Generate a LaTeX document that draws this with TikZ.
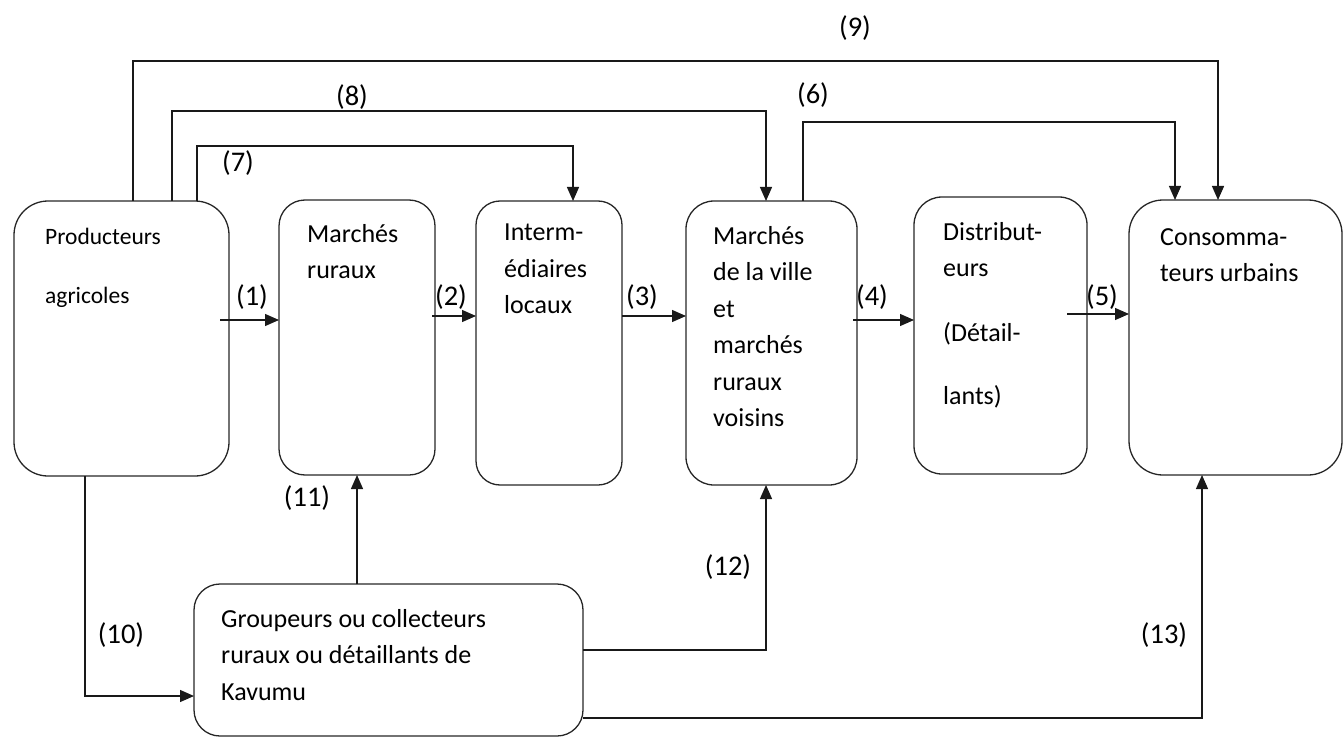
\documentclass[tikz,border=0pt]{standalone}
\usepackage{fontspec}
\setmainfont{Carlito}
\usetikzlibrary{arrows.meta,positioning}

\tikzset{
  box/.style={draw=black!85, line width=1.3pt, anchor=north west, inner sep=0pt, outer sep=0pt},
  txt/.style={anchor=north west, inner sep=0pt, align=left},
  num/.style={font=\fontsize{28.5}{34}\selectfont},
  arr/.style={draw=black!90, line width=1.3pt, -{Triangle[length=14pt,width=12pt]}}
}

\begin{document}
\begin{tikzpicture}[x=1pt,y=-1pt,font=\fontsize{26}{36.5}\selectfont]
   \useasboundingbox (0,0) rectangle (1343,738);
   % boxes
   \node[box, rounded corners=34pt, minimum width=215pt, minimum height=275pt] (prod)  at (14,201)  {};
   \node[box, rounded corners=26pt, minimum width=156pt, minimum height=275pt] (mrur)  at (279,200) {};
   \node[box, rounded corners=24pt, minimum width=146pt, minimum height=284pt] (inter) at (476,201) {};
   \node[box, rounded corners=28pt, minimum width=171pt, minimum height=284pt] (ville) at (686,201) {};
   \node[box, rounded corners=28pt, minimum width=173pt, minimum height=277pt] (distr) at (914,197) {};
   \node[box, rounded corners=34pt, minimum width=213pt, minimum height=275pt] (cons)  at (1129,200) {};
   \node[box, rounded corners=26pt, minimum width=389pt, minimum height=152pt] (grp)   at (194,584) {};
   % texts
   \node[txt, font=\fontsize{23.5}{36.5}\selectfont] (tprod) at (45,228) {Producteurs\\[22.5pt]agricoles};
   \node[txt] (tmrur)  at (307,224)  {Marchés\\ruraux};
   \node[txt] (tinter) at (504,224)  {Interm-\\édiaires\\locaux};
   \node[txt] (tville) at (713,226)  {Marchés\\de la ville\\et\\marchés\\ruraux\\voisins};
   \node[txt] (tdistr) at (943,222)  {Distribut-\\eurs\\[28pt](Détail-\\[27pt]lants)};
   \node[txt] (tcons)  at (1160,228) {Consomma-\\teurs urbains};
   \node[txt] (tgrp)   at (221,609)  {Groupeurs ou collecteurs\\ruraux ou détaillants de\\Kavumu};
   % flows
   \draw[arr] (220,320) -- (mrur.west |- 0,320);
   \draw[arr] (432,316) -- (inter.west |- 0,316);
   \draw[arr] (inter.east |- 0,316) -- (ville.west |- 0,316);
   \draw[arr] (853,320) -- (distr.west |- 0,320);
   \draw[arr] (1067,314) -- (cons.west |- 0,314);
   \draw[arr] (803,0 |- ville.north) |- (1175,122) -- (1175,0 |- cons.north);
   \draw[arr] (197,0 |- prod.north) |- (573,146) -- (573,0 |- inter.north);
   \draw[arr] (172,0 |- prod.north) |- (766,111) -- (766,0 |- ville.north);
   \draw[arr] (133,0 |- prod.north) |- (1218,61) -- (1218,0 |- cons.north);
   \draw[arr] (85,0 |- prod.south) |- (grp.west |- 0,696);
   \draw[arr] (357,0 |- grp.north) -- (357,0 |- mrur.south);
   \draw[arr] (grp.east |- 0,650) -| (766,0 |- ville.south);
   \draw[arr] (grp.east |- 0,718) -| (1202,0 |- cons.south);
   % numbers
   \foreach \n/\x/\y in {1/252/297, 2/451/297, 3/642/297, 4/872/297, 5/1102/297,
                         6/813/95, 7/238/163, 8/352/97, 9/855/28, 10/121/635,
                         11/307/498, 12/728/567, 13/1164/635}
      \node[num] (n\n) at (\x,\y) {(\n)};
\end{tikzpicture}
\end{document}
